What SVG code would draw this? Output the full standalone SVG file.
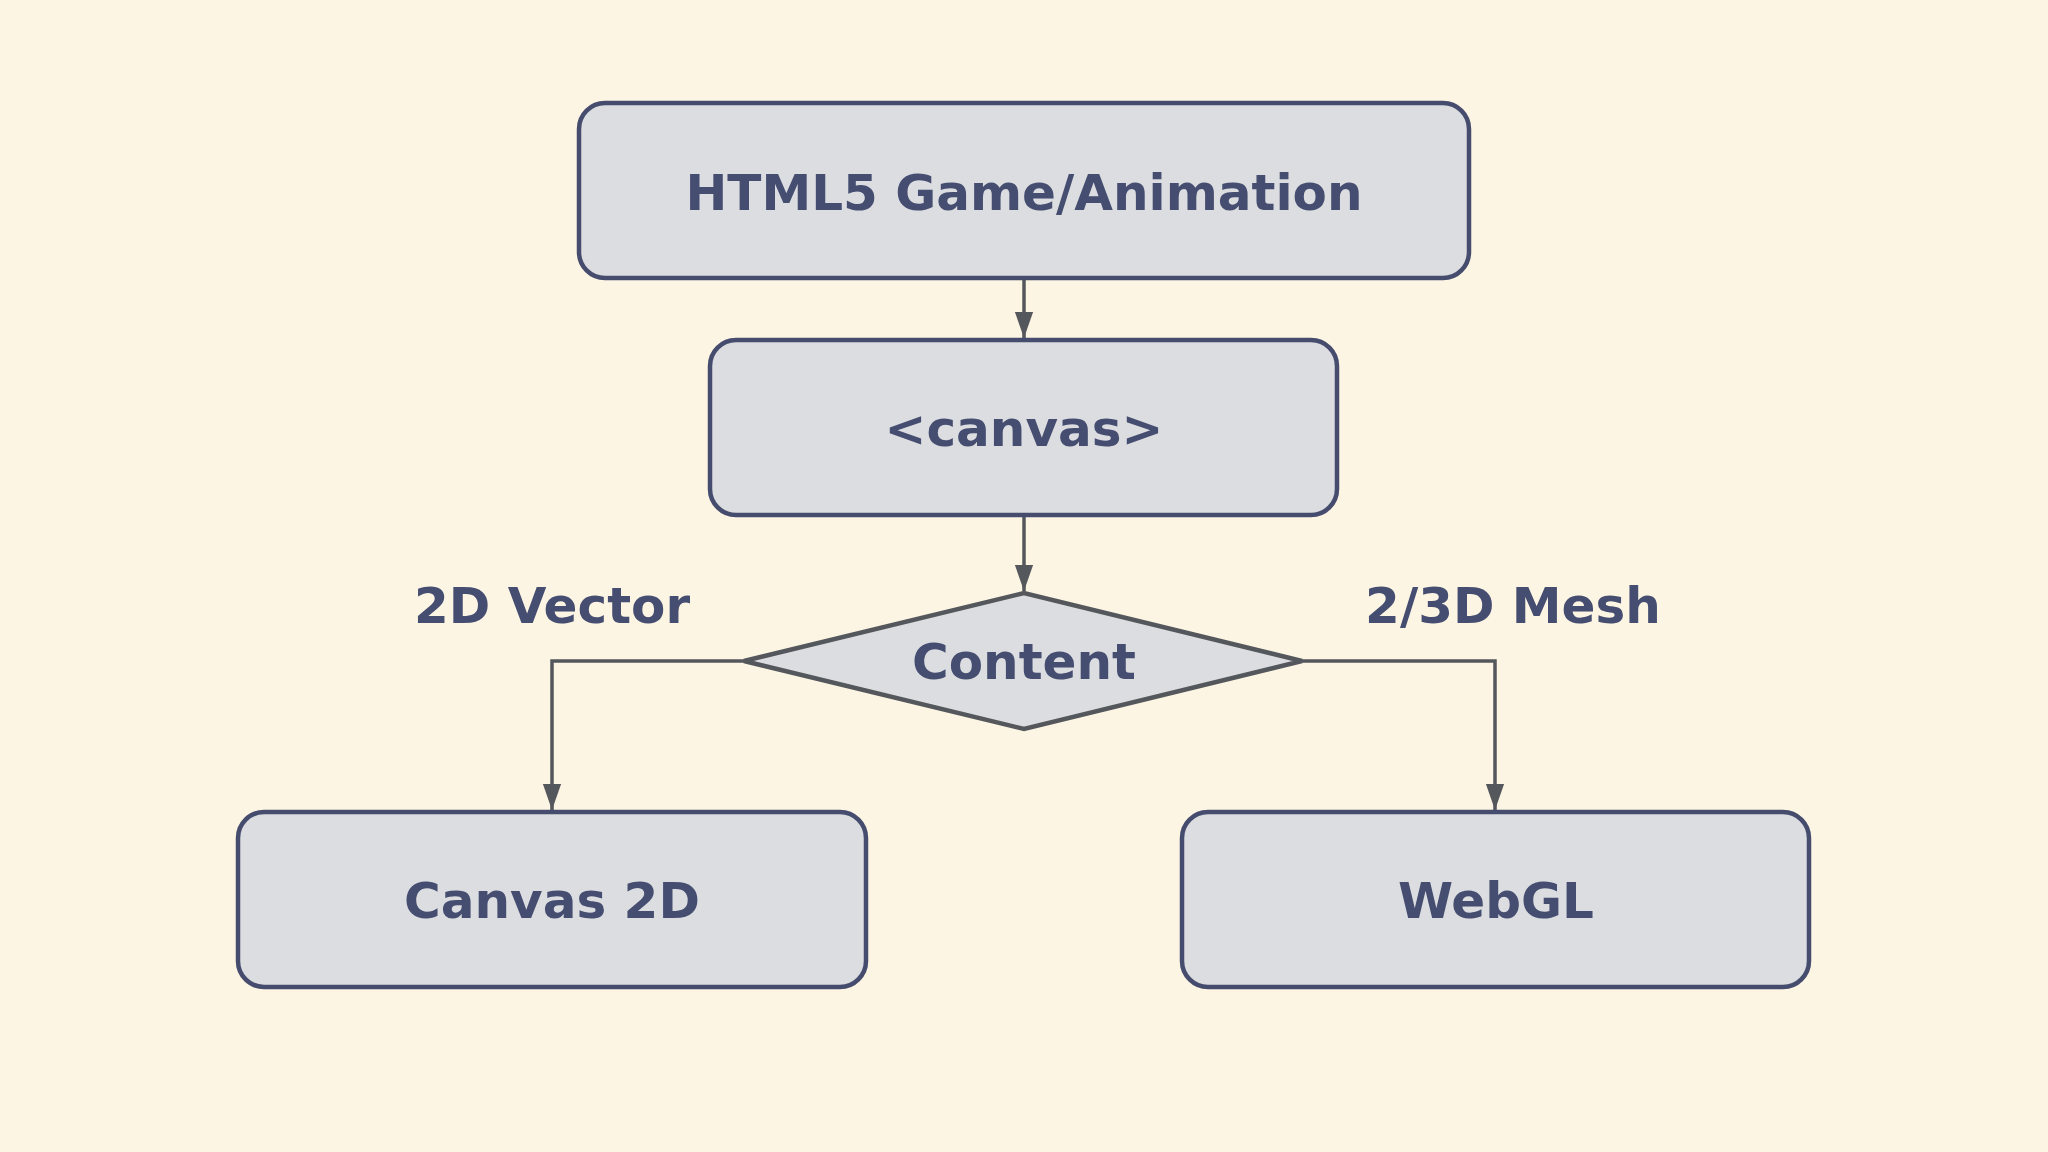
<svg xmlns="http://www.w3.org/2000/svg" width="2048" height="1152" viewBox="0 0 2048 1152">
<style>
.box{fill:#dcdde0;stroke:#464c6e;stroke-width:4.5}
.t{font-family:"DejaVu Sans",sans-serif;font-weight:bold;font-size:50px;fill:#454d70;text-anchor:middle;dominant-baseline:central}
.c{fill:none;stroke:#54575c;stroke-width:3.5}
</style>
<defs><marker id="a" viewBox="0 0 10 10" refX="10" refY="5" markerWidth="8" markerHeight="8" markerUnits="userSpaceOnUse" orient="auto"><path d="M0,0L10,5L0,10z" fill="#54575c"/></marker>
<marker id="b" viewBox="0 0 10 10" refX="10" refY="5" markerWidth="26" markerHeight="26" markerUnits="userSpaceOnUse" orient="auto"><path d="M0,1.5L10,5L0,8.5z" fill="#54575c"/></marker></defs>
<rect width="2048" height="1152" fill="#fdf5e4"/>
<g id="connectors">
<path class="c" d="M1024,278V338" marker-end="url(#b)"/>
<path class="c" d="M1024,515V591" marker-end="url(#b)"/>
<path class="c" d="M744,661H552V810" marker-end="url(#b)"/>
<path class="c" d="M1302,661H1495V810" marker-end="url(#b)"/>
<text class="t" x="552" y="606">2D Vector</text>
<text class="t" x="1513" y="606">2/3D Mesh</text>
</g>
<g id="html5"><rect class="box" x="579" y="103" width="890" height="175" rx="26"/><text class="t" x="1024" y="193">HTML5 Game/Animation</text></g>
<g id="canvas"><rect class="box" x="710" y="340" width="627" height="175" rx="26"/><text class="t" x="1024" y="429">&lt;canvas&gt;</text></g>
<g id="content"><path d="M744,661L1024,593L1302,661L1024,729Z" fill="#dcdde0" stroke="#54575c" stroke-width="4.5"/><text class="t" x="1024" y="662">Content</text></g>
<g id="canvas2d"><rect class="box" x="238" y="812" width="628" height="175" rx="26"/><text class="t" x="552" y="901">Canvas 2D</text></g>
<g id="webgl"><rect class="box" x="1182" y="812" width="627" height="175" rx="26"/><text class="t" x="1496" y="901">WebGL</text></g>
</svg>
